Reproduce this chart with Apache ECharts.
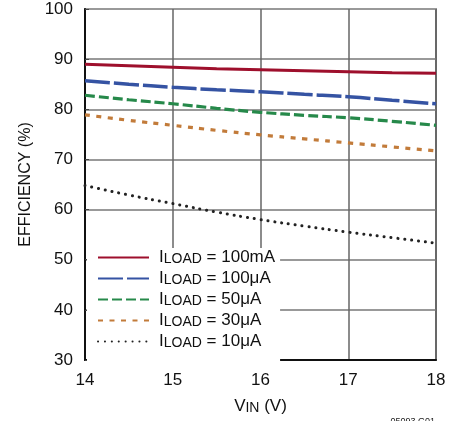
<!DOCTYPE html>
<html><head><meta charset="utf-8">
<script src="https://cdn.jsdelivr.net/npm/echarts@6/dist/echarts.min.js"></script>
<style>html,body{margin:0;padding:0;background:#fff}#c{width:455px;height:421px}</style>
</head><body><div id="c"></div>
<script>
const vin = [14, 14.5, 15, 15.5, 16, 16.5, 17, 17.5, 18];
const load100mA = [89.0, 88.7, 88.4, 88.1, 87.9, 87.7, 87.5, 87.3, 87.2];
const load100uA = [85.7, 85.0, 84.4, 83.9, 83.5, 83.0, 82.5, 81.8, 81.1];
const load50uA  = [82.8, 81.9, 81.1, 80.2, 79.4, 78.8, 78.3, 77.6, 76.8];
const load30uA  = [78.9, 77.8, 76.8, 75.8, 74.9, 74.1, 73.3, 72.5, 71.7];
const load10uA  = [64.8, 62.9, 61.2, 59.5, 58.0, 56.7, 55.5, 54.4, 53.3];
const legendLabels = ['100mA', '100μA', '50μA', '30μA', '10μA'];
const yTicks = [30, 40, 50, 60, 70, 80, 90, 100];
const xTicks = [14, 15, 16, 17, 18];

const FONT = '"Liberation Sans", Arial, sans-serif';
function pts(arr){ return vin.map((x,i)=>[x, arr[i]]); }
const defs = [
  {d: load100mA, c:'#9e0f2c', w:3,   t:'solid', cap:'butt'},
  {d: load100uA, c:'#3553a3', w:3.5, t:[25,4], cap:'butt'},
  {d: load50uA,  c:'#26894a', w:3.2, t:[10,4], cap:'butt'},
  {d: load30uA,  c:'#c27b3a', w:3.2, t:[5,6.5], cap:'butt'},
  {d: load10uA,  c:'#222222', w:3, t:[0.1,6.8], cap:'round'}
];
const chart = echarts.init(document.getElementById('c'), null, {renderer:'canvas'});
chart.setOption({
  animation:false,
  backgroundColor:'#fff',
  grid:{left:85, right:19, top:9, bottom:61, show:true, borderColor:'#444', borderWidth:1.5, backgroundColor:'transparent', outerBoundsMode:'none', containLabel:false},
  xAxis:{type:'value', min:14, max:18, interval:1,
    axisLine:{show:true, lineStyle:{color:'#111', width:2}},
    axisTick:{show:false},
    splitLine:{show:true, lineStyle:{color:'#666', width:1.5}},
    axisLabel:{color:'#111', fontSize:17, fontFamily:FONT, margin:12, formatter:v=>xTicks.includes(v)?String(v):''},
    name:'{v|V}{s|IN}{v| (V)}', nameLocation:'middle', nameGap:37,
    nameTextStyle:{rich:{
      v:{fontSize:17, fontFamily:FONT, color:'#111', lineHeight:18, verticalAlign:'middle'},
      s:{fontSize:14, fontFamily:FONT, color:'#111', lineHeight:10, verticalAlign:'bottom'}
    }}
  },
  yAxis:{type:'value', min:30, max:100, interval:10,
    axisLine:{show:true, lineStyle:{color:'#111', width:2}},
    axisTick:{show:true, inside:true, length:4, lineStyle:{color:'#444'}},
    splitLine:{show:true, lineStyle:{color:'#999', width:2}},
    axisLabel:{color:'#111', fontSize:17, fontFamily:FONT, margin:12, formatter:v=>yTicks.includes(v)?String(v):''},
    name:'EFFICIENCY (%)', nameLocation:'middle', nameGap:51, nameRotate:90,
    nameTextStyle:{color:'#111', fontSize:16, fontFamily:FONT}
  },
  legend:{
    orient:'vertical', left:87, top:248, itemWidth:51, itemHeight:14, itemGap:3.5,
    backgroundColor:'#fff', padding:[1,5,12,10],
    itemStyle:{opacity:0},
    data: legendLabels,
    formatter: n => '{i|I}{s|LOAD}{t| = ' + n + '}',
    textStyle:{rich:{
      i:{fontSize:17, fontFamily:FONT, color:'#111', lineHeight:18, verticalAlign:'middle', padding:[0,0,0,5]},
      s:{fontSize:14, fontFamily:FONT, color:'#111', lineHeight:10, verticalAlign:'bottom'},
      t:{fontSize:17, fontFamily:FONT, color:'#111', lineHeight:18, verticalAlign:'middle'}
    }}
  },
  graphic:[{type:'text', right:20, bottom:-5, style:{text:'05093 G01', fontSize:9, fontFamily:FONT, fill:'#222'}}],
  series: defs.map((s,i)=>({
    name: legendLabels[i], type:'line', data: pts(s.d), symbol:'none', smooth:true,
    lineStyle:{color:s.c, width:s.w, type:s.t, cap:s.cap},
    itemStyle:{color:s.c}
  }))
});
</script></body></html>
